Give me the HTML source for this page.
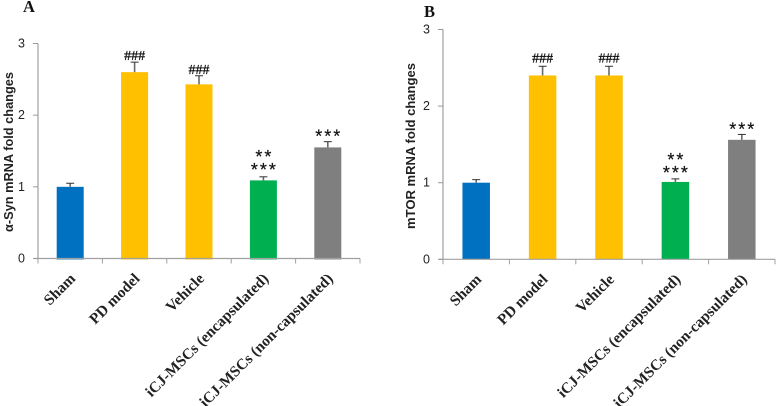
<!DOCTYPE html>
<html lang="en">
<head>
<meta charset="utf-8">
<title>α-Syn and mTOR mRNA fold changes</title>
<style>
html,body{margin:0;padding:0;background:#fff;width:776px;height:406px;overflow:hidden}
svg{display:block}
.tick{font-family:"Liberation Sans",sans-serif;font-size:12.5px;fill:#222}
.cat{font-family:"Liberation Serif",serif;font-weight:bold;font-size:15.3px;fill:#222}
.title{font-family:"Liberation Sans",sans-serif;font-weight:bold;font-size:12.5px;fill:#222}
.panel{font-family:"Liberation Serif",serif;font-weight:bold;font-size:16.5px;fill:#111}
.hash{font-family:"Liberation Serif",serif;font-size:14px;fill:#111;stroke:#111;stroke-width:.3px}
.star{font-family:"Liberation Sans",sans-serif;font-size:18px;letter-spacing:2px;fill:#111;stroke:#111;stroke-width:.2px}
</style>
</head>
<body>
<svg id="figure" width="776" height="406" viewBox="0 0 776 406" xmlns="http://www.w3.org/2000/svg">
  <text class="panel" x="23" y="12">A</text>
  <text class="panel" x="424" y="17">B</text>
  <text class="title" textLength="160" lengthAdjust="spacingAndGlyphs" transform="translate(13,232) rotate(-90)">α-Syn mRNA fold changes</text>
  <text class="title" textLength="166" lengthAdjust="spacingAndGlyphs" transform="translate(415,229) rotate(-90)">mTOR mRNA fold changes</text>
  <g id="chart-a"></g>
  <g id="chart-b"></g>
</svg>
<script>
const categories = ["Sham", "PD model", "Vehicle", "iCJ-MSCs (encapsulated)", "iCJ-MSCs (non-capsulated)"];
const barColors = ["#0070c0", "#ffc000", "#ffc000", "#00b050", "#7f7f7f"];
const yTicks = [0, 1, 2, 3];

const synValues = [1.0, 2.6, 2.43, 1.09, 1.55];
const synErrors = [0.05, 0.14, 0.12, 0.05, 0.08];
const synMarks = [[], ["###"], ["###"], ["**", "***"], ["***"]];

const mtorValues = [1.0, 2.4, 2.4, 1.01, 1.56];
const mtorErrors = [0.04, 0.12, 0.12, 0.04, 0.07];
const mtorMarks = [[], ["###"], ["###"], ["**", "***"], ["***"]];

const NS = "http://www.w3.org/2000/svg";

function make(parent, tag, attrs) {
  const el = document.createElementNS(NS, tag);
  for (const k in attrs) el.setAttribute(k, attrs[k]);
  parent.appendChild(el);
  return el;
}

function drawChart(root, values, errors, marks, box, suffix) {
  const yScale = v => box.bottom - (v / yTicks[yTicks.length - 1]) * (box.bottom - box.top);
  const step = (box.right - box.left) / categories.length;
  const xScale = i => box.left + step * (i + 0.5);

  values.forEach((v, i) => {
    const cx = xScale(i);
    const bar = make(root, "rect", {x: cx - box.barW / 2, y: yScale(v), width: box.barW, height: box.bottom - yScale(v) + box.overhang, fill: barColors[i]});
    
    

    const errTop = yScale(v + errors[i]);
    const stem = make(root, "line", {x1: cx, x2: cx, y1: yScale(v), y2: errTop, stroke: "#6a6a6a", "stroke-width": 1.6});
    
    
    const cap = make(root, "line", {x1: cx - 4, x2: cx + 4, y1: errTop, y2: errTop, stroke: "#333", "stroke-width": 1});
    
    

    const lines = marks[i];
    lines.forEach((label, j) => {
      const isHash = label.charAt(0) === "#";
      const fromBottom = lines.length - 1 - j;
      const baseY = errTop + (isHash ? box.hashGap : box.starGaps[i]) - fromBottom * 13;
      const t = make(root, "text", {class: isHash ? "hash" : "star", x: cx + (isHash ? 0 : 1), y: baseY, "text-anchor": "middle"});
      t.textContent = label;
      
      
    });
  });

  const yAxis = make(root, "line", {x1: box.left, x2: box.left, y1: box.top, y2: box.bottom, stroke: "#b4b4b4", "stroke-width": 1.5});
  
  
  const xAxis = make(root, "line", {x1: box.left - 4, x2: box.right, y1: box.bottom, y2: box.bottom, stroke: "#a0a0a0", "stroke-width": 1.2});
  
  

  yTicks.forEach(v => {
    const y = yScale(v);
    const tick = make(root, "line", {x1: box.left - 5, x2: box.left, y1: y, y2: y, stroke: "#999", "stroke-width": 1});
    
    
    const label = make(root, "text", {class: "tick", x: box.left - 13, y: y + 4, "text-anchor": "end"});
    label.textContent = v;
    
    
  });

  categories.forEach((c, i) => {
    const x = box.left + step * (i + 1);
    const tick = make(root, "line", {x1: x, x2: x, y1: box.bottom, y2: box.bottom + 5, stroke: "#a0a0a0", "stroke-width": 1});
    
    
    const ax = xScale(i) + 6;
    const ay = box.bottom + 21;
    const label = make(root, "text", {class: "cat", "text-anchor": "end", transform: "translate(" + ax + "," + ay + ") rotate(-45)"});
    label.textContent = c;
    
    
  });
  const first = make(root, "line", {x1: box.left, x2: box.left, y1: box.bottom, y2: box.bottom + 5, stroke: "#a0a0a0", "stroke-width": 1});
  
  
}

drawChart(document.getElementById("chart-a"), synValues, synErrors, synMarks,
  {left: 38, right: 360, top: 43.5, bottom: 258.5, barW: 27, overhang: 1, hashGap: -2, starGaps: [0, 0, 0, -1, 1]}, "a");
drawChart(document.getElementById("chart-b"), mtorValues, mtorErrors, mtorMarks,
  {left: 443, right: 775, top: 29.5, bottom: 259.3, barW: 27.5, overhang: 0, hashGap: -4, starGaps: [0, 0, 0, 0, 1]}, "b");
</script>
</body>
</html>
